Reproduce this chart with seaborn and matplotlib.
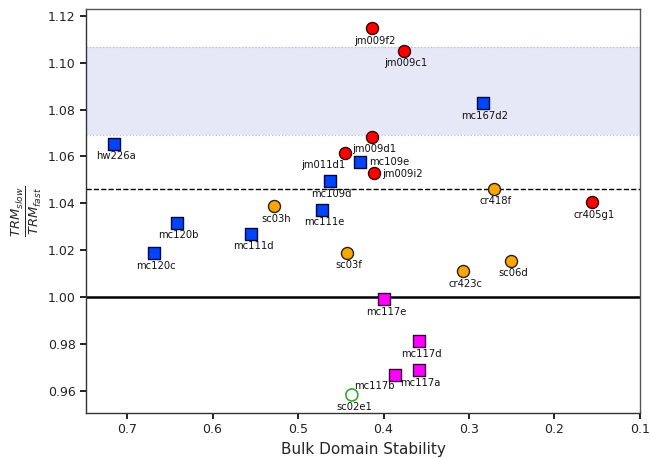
import matplotlib
matplotlib.use("Agg")
import matplotlib.pyplot as plt
import seaborn as sns
import pandas as pd

# Specimen names, bulk domain stability and TRM ratio
samples = ["jm009f2", "jm009c1", "mc167d2", "hw226a", "jm009d1", "jm011d1",
           "mc109e", "jm009i2", "mc109d", "cr418f", "cr405g1", "sc03h",
           "mc111e", "mc120b", "mc111d", "mc120c", "sc03f", "cr423c",
           "sc06d", "mc117e", "mc117d", "mc117a", "mc117b", "sc02e1"]
stability = [0.413, 0.376, 0.284, 0.715, 0.413, 0.445,
             0.427, 0.411, 0.463, 0.271, 0.156, 0.528,
             0.472, 0.642, 0.555, 0.668, 0.443, 0.307,
             0.251, 0.399, 0.358, 0.359, 0.386, 0.437]
trm_ratio = [1.1148, 1.1050, 1.0826, 1.0653, 1.0684, 1.0613,
             1.0577, 1.0529, 1.0495, 1.0463, 1.0404, 1.0387,
             1.0373, 1.0317, 1.0270, 1.0186, 1.0189, 1.0109,
             1.0155, 0.9991, 0.9811, 0.9688, 0.9666, 0.9582]
group = ["A", "A", "B", "B", "A", "A",
         "B", "A", "B", "C", "A", "C",
         "B", "B", "B", "B", "C", "C",
         "C", "D", "D", "D", "D", "E"]

# Reference levels
band_low, band_high = 1.0691, 1.1067
dashed_level = 1.0461
unity_level = 1.00

df = pd.DataFrame({"sample": samples, "x": stability, "y": trm_ratio, "group": group})

styles = {
    "A": dict(marker="o", color="#ff0000", edgecolor="#330000", s=75, linewidth=1.0),
    "B": dict(marker="s", color="#0044ff", edgecolor="#000833", s=80, linewidth=1.0),
    "C": dict(marker="o", color="#ffa500", edgecolor="#222222", s=75, linewidth=1.0),
    "D": dict(marker="s", color="#ff00ff", edgecolor="#330033", s=80, linewidth=1.0),
    "E": dict(marker="o", color="none", edgecolor="#33aa33", s=75, linewidth=1.2),
}

# Label placement (pixel offsets from the marker)
label_pos = {
    "jm011d1": (-22, -12, "center"),
    "mc109e": (9, 0, "left"),
    "jm009i2": (8, -1, "left"),
    "mc117b": (-21, -11, "center"),
    "mc117a": (2, -13, "center"),
}

sns.set_style("ticks")
plt.rcParams["font.family"] = ["DejaVu Sans"]

fig = plt.figure(figsize=(6.5, 4.58), dpi=100)
ax = fig.add_axes([0.1323, 0.0983, 0.8523, 0.882])

ax.axhspan(band_low, band_high, facecolor="#e6e8f8", edgecolor="none", zorder=0)
for lvl in (band_low, band_high):
    ax.axhline(lvl, color="#a9c4ec", linestyle=":", linewidth=0.9, zorder=0.5)
ax.axhline(dashed_level, color="black", linestyle="--", linewidth=1.0, zorder=1)
ax.axhline(unity_level, color="black", linestyle="-", linewidth=1.8, zorder=1)

for g, st in styles.items():
    sub = df[df["group"] == g]
    sns.scatterplot(data=sub, x="x", y="y", ax=ax, marker=st["marker"],
                    color=st["color"], edgecolor=st["edgecolor"], s=st["s"],
                    linewidth=st["linewidth"], legend=False, zorder=3)

for name, xv, yv in zip(samples, stability, trm_ratio):
    dx, dy, ha = label_pos.get(name, (2, -12.5, "center"))
    ax.annotate(name, (xv, yv), xytext=(dx, dy), textcoords="offset pixels",
                ha=ha, va="center", fontsize=7.2, color="#111111", zorder=4)

ax.set_xlim(0.748, 0.1)
ax.set_ylim(0.9505, 1.1229)
ax.set_xticks([0.7, 0.6, 0.5, 0.4, 0.3, 0.2, 0.1])
ax.set_xticklabels(["0.7", "0.6", "0.5", "0.4", "0.3", "0.2", "0.1"])
ax.set_yticks([0.96, 0.98, 1.00, 1.02, 1.04, 1.06, 1.08, 1.10, 1.12])
ax.set_yticklabels(["0.96", "0.98", "1.00", "1.02", "1.04", "1.06", "1.08", "1.10", "1.12"])
ax.tick_params(axis="both", labelsize=9, width=1.4, length=4, colors="#222222")

for side in ("left", "bottom"):
    ax.spines[side].set_color("#333333")
    ax.spines[side].set_linewidth(1.0)
for side in ("top", "right"):
    ax.spines[side].set_color("#555555")
    ax.spines[side].set_linewidth(1.0)

ax.set_xlabel("Bulk Domain Stability", fontsize=11, labelpad=4)
ax.set_ylabel(r"$\frac{TRM_{slow}}{TRM_{fast}}$", fontsize=13.5, labelpad=3)

fig.savefig("out.png", dpi=100)
